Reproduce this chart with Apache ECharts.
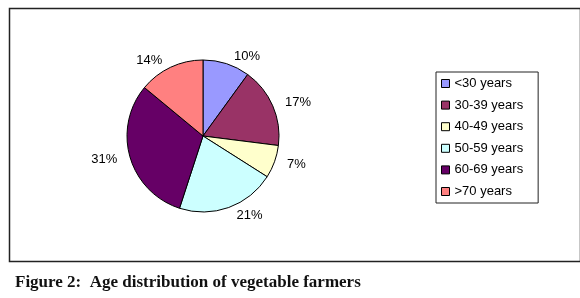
<!DOCTYPE html>
<html>
<head>
<meta charset="utf-8">
<script src="https://cdn.jsdelivr.net/npm/echarts@6/dist/echarts.min.js"></script>
<style>html,body{margin:0;padding:0;background:#fff;}#c{width:580px;height:298px;}</style>
</head>
<body>
<div id="c"></div>
<script>
var categories = ['<30 years', '30-39 years', '40-49 years', '50-59 years', '60-69 years', '>70 years'];
var shares = [10, 17, 7, 21, 31, 14];
var colors = ['#9999FF', '#993366', '#FFFFCC', '#CCFFFF', '#660066', '#FF8080'];
var caption = 'Figure 2:  Age distribution of vegetable farmers';

var chart = echarts.init(document.getElementById('c'), null, {renderer: 'canvas'});
chart.setOption({
  animation: false,
  backgroundColor: '#fff',
  color: colors,
  graphic: [
    {type: 'rect', left: 7, top: 6, shape: {width: 571, height: 253},
     style: {fill: 'none', stroke: '#222', lineWidth: 1.5}, silent: true},
    {type: 'text', left: 15, top: 274,
     style: {text: caption, font: 'bold 17px "Liberation Serif"', fill: '#111'}}
  ],
  legend: {
    orient: 'vertical',
    left: 436, top: 72,
    padding: [5, 15, 5, 5],
    borderColor: '#222', borderWidth: 1,
    itemWidth: 8, itemHeight: 8, itemGap: 8.6,
    icon: 'rect',
    itemStyle: {borderColor: '#000', borderWidth: 1},
    textStyle: {fontFamily: '"Liberation Sans", Arial', fontSize: 13, color: '#000', lineHeight: 13, padding: [0, 0, 0, 0]},
    data: categories
  },
  series: [{
    type: 'pie',
    center: [203, 136],
    radius: 76,
    startAngle: 90,
    clockwise: true,
    avoidLabelOverlap: false,
    itemStyle: {borderColor: '#000', borderWidth: 1},
    label: {show: true, position: 'outside', formatter: '{c}%',
            fontFamily: '"Liberation Sans", Arial', fontSize: 13, color: '#000'},
    labelLine: {show: false, length: 8, length2: 0},
    emphasis: {disabled: true},
    data: categories.map(function (n, i) { return {name: n, value: shares[i]}; })
  }]
});
</script>
</body>
</html>
